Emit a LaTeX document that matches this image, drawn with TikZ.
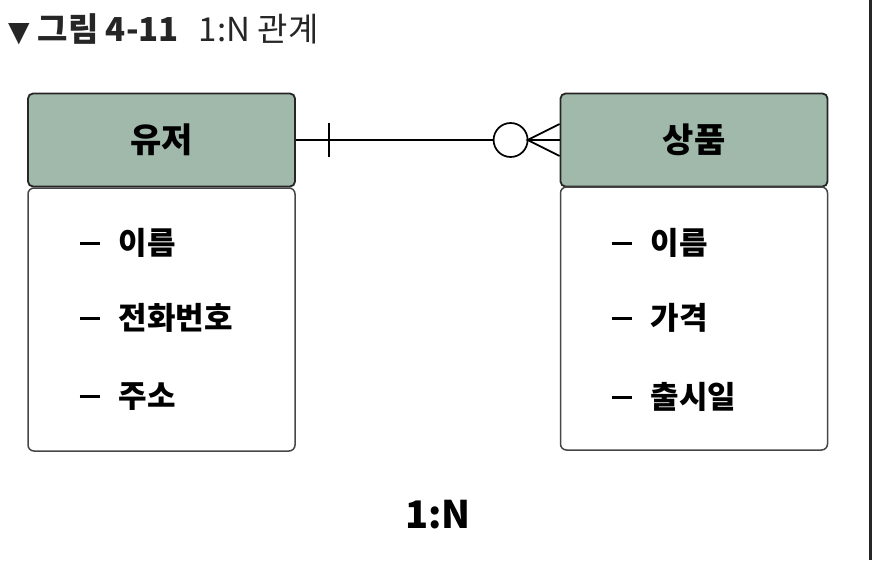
\documentclass[tikz,border=0pt]{standalone}
\usepackage{fontspec}
\setmainfont{Noto Sans CJK KR}
\newfontfamily\symfont{DejaVu Sans}
\usetikzlibrary{positioning,calc}

\definecolor{hdrgreen}{RGB}{160,185,170}
\definecolor{boxline}{RGB}{70,70,70}
\newcommand{\attrdash}{\rule[10pt]{20pt}{2.6pt}\hspace{19pt}}

\begin{document}
\begin{tikzpicture}[x=1pt, y=-1pt,
  hdr/.style={draw=black!85, line width=1.8pt, fill=hdrgreen, rounded corners=5pt,
    minimum width=267pt, minimum height=93pt, font=\fontsize{34}{40}\selectfont\bfseries},
  body/.style={draw=boxline, line width=1.5pt, rounded corners=6pt,
    minimum width=267pt, minimum height=263pt},
  attr/.style={anchor=west, font=\fontsize{31}{36}\selectfont\bfseries}]
\useasboundingbox (0,0) rectangle (872,560);
\fill[black!85] (869,0) rectangle (872,560);
\node[anchor=west, text=black!85, inner sep=0pt] (title) at (8,29)
  {{\symfont\fontsize{28}{30}\selectfont ▼}\hspace{8pt}{\fontsize{33}{38}\selectfont\bfseries 그림 4-11}\hspace{20pt}{\fontsize{33}{38}\selectfont 1:N 관계}};
\node[hdr] (user) at (161.5,140) {유저};
\node[body] (userbody) at (161.5,319.5) {};
\node[hdr] (prod) at (694,140) {상품};
\node[body] (prodbody) at (694,318.5) {};
% attributes
\node[attr] (u1) at (76,243) {\attrdash 이름};
\node[attr] (u2) at (76,318) {\attrdash 전화번호};
\node[attr] (u3) at (76,397) {\attrdash 주소};
\node[attr] (p1) at (608,243) {\attrdash 이름};
\node[attr] (p2) at (608,318) {\attrdash 가격};
\node[attr] (p3) at (608,397) {\attrdash 출시일};
% 1:N connector
\coordinate (one) at ($(user.east)+(33,0)$);
\coordinate (foot) at ($(prod.west)+(-32,0)$);
\node[draw, line width=1.7pt, circle, minimum size=34pt, inner sep=0pt, fill=white] (zero) at ($(foot)+(-17,0)$) {};
\draw[line width=1.7pt] (user.east) -- (zero.west);
\draw[line width=1.7pt] ($(one)+(0,-17)$) -- ($(one)+(0,17)$);
\draw[line width=1.7pt] (zero.east) -- (prod.west);
\draw[line width=1.7pt] ($(prod.west)+(0,-16)$) -- (foot) -- ($(prod.west)+(0,16)$);
\node[font=\fontsize{38}{44}\selectfont\bfseries] (ratio) at (438,515) {1:N};
\end{tikzpicture}
\end{document}
